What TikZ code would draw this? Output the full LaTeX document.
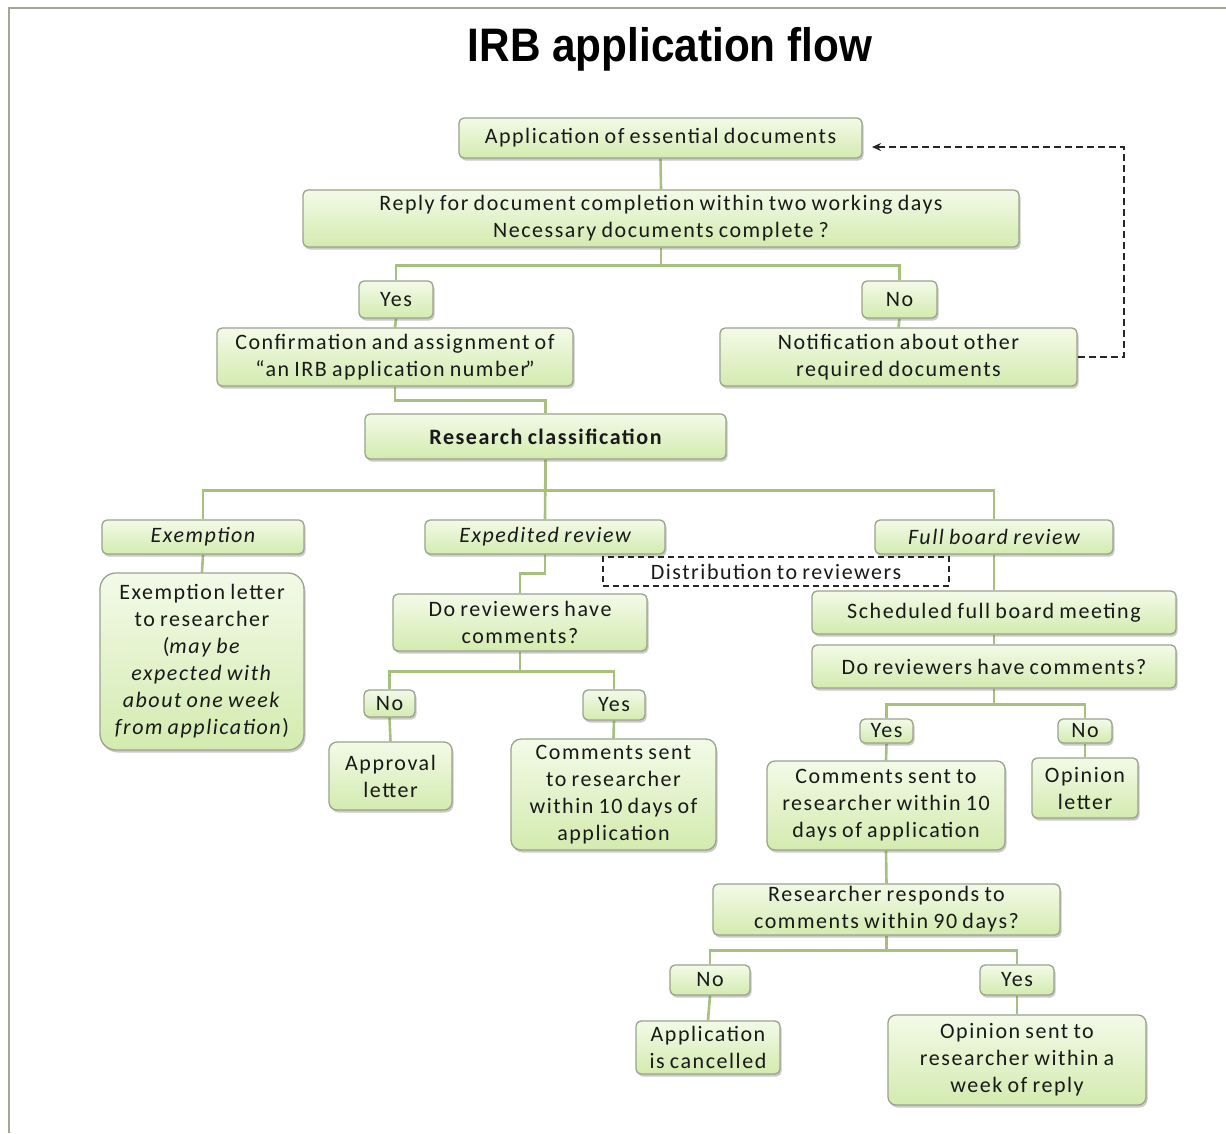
\documentclass[tikz,border=0pt]{standalone}
\usepackage{fontspec}
\setmainfont{Carlito}[LetterSpace=7, WordSpace=0.8]
\newfontfamily\titlefont{Liberation Sans}
\usetikzlibrary{shadows,backgrounds,arrows.meta}

\definecolor{boxtop}{HTML}{F3FAE8}
\definecolor{boxbot}{HTML}{D3EBAF}
\definecolor{boxline}{HTML}{9AA38C}
\definecolor{linkgreen}{HTML}{A7C07E}
\definecolor{framegray}{HTML}{A3A595}

\tikzset{
  box/.style={draw=boxline, line width=1.3pt, rounded corners=5pt,
    top color=boxtop, bottom color=boxbot, align=center, inner sep=0pt,
    font=\fontsize{22}{27}\selectfont, text=black!90,
    drop shadow={shadow xshift=1.5pt, shadow yshift=-2.5pt, opacity=0.35, fill=black!60}},
  link/.style={draw=linkgreen, line width=2.6pt},
  dashback/.style={draw=black!85, line width=1.8pt, dash pattern=on 7pt off 4pt,
    -{Stealth[length=9pt,width=8pt]}},
  distbox/.style={draw=black!85, line width=1.6pt, dash pattern=on 6pt off 4pt,
    align=center, inner sep=0pt, font=\fontsize{22}{27}\selectfont, text=black!90},
}

\begin{document}
\begin{tikzpicture}[x=1pt, y=-1pt]
\useasboundingbox (0,0) rectangle (1226,1133);
% page frame
\draw[framegray, line width=2.2pt] (9,1133) -- (9,8) -- (1226,8);

% title
\node (title) at (670,49) {\scalebox{0.9}[1]{\titlefont\bfseries\fontsize{47}{50}\selectfont IRB application flow}};

% submission and completeness check
\node[box, minimum width=403pt, minimum height=40pt] (app) at (660.5,138) {Application of essential documents};
\node[box, minimum width=716pt, minimum height=57pt] (reply) at (661,218.5) {Reply for document completion within two working days\\Necessary documents complete ?};
\node[box, minimum width=74pt, minimum height=37pt] (yes1) at (396,299.5) {Yes};
\node[box, minimum width=75pt, minimum height=37pt] (no1) at (899.5,299.5) {No};
\node[box, minimum width=356pt, minimum height=58pt] (conf) at (395,357) {Confirmation and assignment of\\“an IRB application number\kern-3pt”};
\node[box, minimum width=357pt, minimum height=58pt] (notif) at (898.5,357) {Notification about other\\required documents};
\node[box, minimum width=361pt, minimum height=45pt] (rc) at (545.5,436.5) {\bfseries Research classification};

% review categories
\node[box, minimum width=202pt, minimum height=34pt] (exm) at (203,537) {\itshape Exemption};
\node[box, minimum width=240pt, minimum height=34pt] (exp) at (545,537) {\itshape Expedited review};
\node[box, minimum width=238pt, minimum height=34pt] (fb) at (994,537) {\itshape Full board review};
\node[distbox, minimum width=346pt, minimum height=29pt] (dist) at (776,571.5) {Distribution to reviewers};

% exemption branch
\node[box, rounded corners=16pt, minimum width=204pt, minimum height=177pt] (exl) at (202,661.5)
  {Exemption letter\\to researcher\\(\textit{may be}\\\textit{expected with}\\\textit{about one week}\\\textit{from application})};

% expedited branch
\node[box, minimum width=254pt, minimum height=57pt] (dr1) at (520,622.5) {Do reviewers have\\comments?};
\node[box, minimum width=51pt, minimum height=27pt] (no2) at (389.5,703.5) {No};
\node[box, minimum width=62pt, minimum height=30pt] (yes2) at (614,705) {Yes};
\node[box, rounded corners=8pt, minimum width=123pt, minimum height=68pt] (appr) at (390.5,776) {Approval\\letter};
\node[box, rounded corners=10pt, minimum width=205pt, minimum height=111pt] (com1) at (613.5,794.5) {Comments sent\\to researcher\\within 10 days of\\application};

% full board branch
\node[box, minimum width=364pt, minimum height=43pt] (sched) at (994,612.5) {Scheduled full board meeting};
\node[box, minimum width=364pt, minimum height=43pt] (dr2) at (994,666.5) {Do reviewers have comments?};
\node[box, minimum width=53pt, minimum height=24pt] (yes3) at (886.5,731) {Yes};
\node[box, minimum width=54pt, minimum height=24pt] (no3) at (1085,731) {No};
\node[box, rounded corners=8pt, minimum width=238pt, minimum height=89pt] (com2) at (886,805.5) {Comments sent to\\researcher within 10\\days of application};
\node[box, minimum width=106pt, minimum height=60pt] (opl) at (1085,788) {Opinion\\letter};
\node[box, minimum width=347pt, minimum height=51pt] (resp) at (886.5,909.5) {Researcher responds to\\comments within 90 days?};
\node[box, minimum width=80pt, minimum height=30pt] (no4) at (710,980) {No};
\node[box, minimum width=74pt, minimum height=30pt] (yes4) at (1017,980) {Yes};
\node[box, minimum width=144pt, minimum height=53pt] (canc) at (708,1047.5) {Application\\is cancelled};
\node[box, rounded corners=8pt, minimum width=258pt, minimum height=90pt] (ops) at (1017,1060) {Opinion sent to\\researcher within a\\week of reply};

% return path for incomplete submissions
\coordinate (retend) at (872,147);
\draw[dashback] (notif.east) -- ++(46,0) |- (retend);

% connectors
\begin{scope}[on background layer]
  \draw[link] (app.south) -- (reply.north);
  \draw[link] (reply.south) -- ++(0,18) -| (yes1.north);
  \draw[link] (reply.south) ++(0,18) -| (no1.north);
  \draw[link] (yes1.south) -- (conf.north);
  \draw[link] (no1.south) -- (notif.north);
  \draw[link] (conf.south) -- ++(0,14) -| (rc.north);
  \draw[link] (rc.south) -- ++(0,31) -| (exm.north);
  \draw[link] (rc.south) -- (exp.north);
  \draw[link] (rc.south) ++(0,31) -| (fb.north);
  \draw[link] (exm.south) -- (exl.north);
  \draw[link] (exp.south) -- ++(0,19) -| (dr1.north);
  \draw[link] (fb.south) -- (sched.north);
  \draw[link] (sched.south) -- (dr2.north);
  \draw[link] (dr1.south) -- ++(0,20) -| (no2.north);
  \draw[link] (dr1.south) ++(0,20) -| (yes2.north);
  \draw[link] (no2.south) -- (appr.north);
  \draw[link] (yes2.south) -- (com1.north);
  \draw[link] (dr2.south) -- ++(0,16) -| (yes3.north);
  \draw[link] (dr2.south) ++(0,16) -| (no3.north);
  \draw[link] (yes3.south) -- (com2.north);
  \draw[link] (no3.south) -- (opl.north);
  \draw[link] (com2.south) -- (resp.north);
  \draw[link] (resp.south) -- ++(0,15) -| (no4.north);
  \draw[link] (resp.south) ++(0,15) -| (yes4.north);
  \draw[link] (no4.south) -- (canc.north);
  \draw[link] (yes4.south) -- (ops.north);
\end{scope}
\end{tikzpicture}
\end{document}
